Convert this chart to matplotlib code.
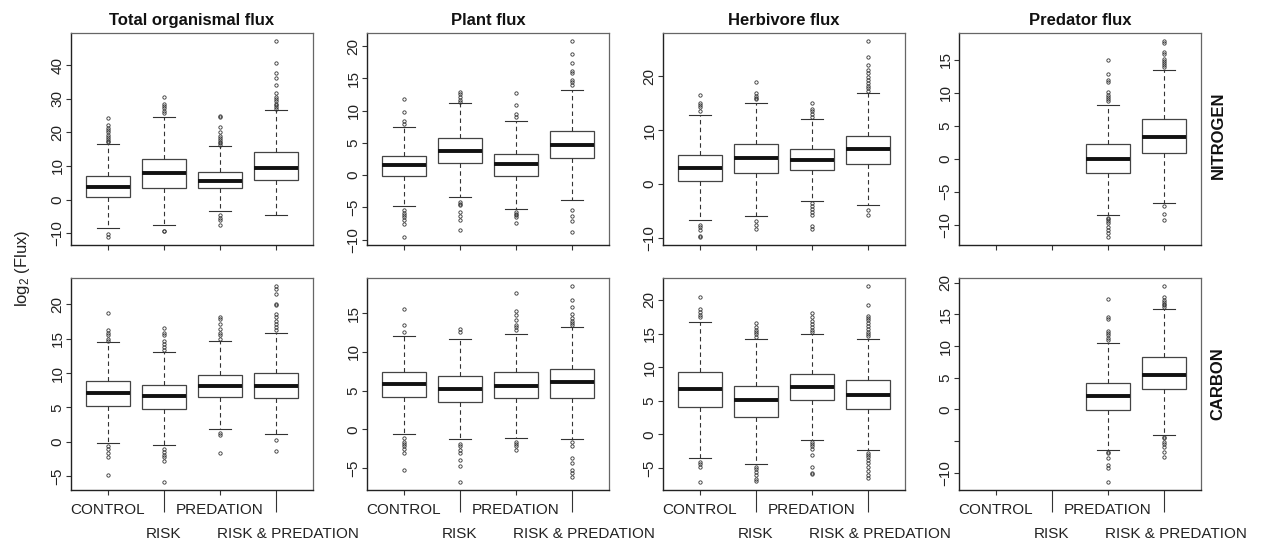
import matplotlib
matplotlib.use("Agg")
import matplotlib.pyplot as plt
import numpy as np

plt.rcParams.update({
    "font.family": "Liberation Sans",
    "mathtext.default": "regular",
    "axes.unicode_minus": True,
})

groups = ["Total organismal flux", "Plant flux", "Herbivore flux", "Predator flux"]
treatments = ["CONTROL", "RISK", "PREDATION", "RISK & PREDATION"]
elements = ["NITROGEN", "CARBON"]

# ---- NITROGEN (rows = flux group, cols = treatment) ----
n_q1 = [[0.8, 3.5, 3.5, 5.9], [-0.1, 1.96, -0.2, 2.6], [0.5, 2.0, 2.5, 3.7], [None, None, -2.2, 0.9]]
n_med = [[3.75, 7.9, 5.4, 9.4], [1.55, 3.8, 1.8, 4.7], [3.0, 4.8, 4.5, 6.5], [None, None, 0.0, 3.35]]
n_q3 = [[7.0, 12.0, 8.1, 14.1], [3.0, 5.8, 3.25, 6.85], [5.4, 7.4, 6.4, 9.0], [None, None, 2.2, 6.1]]
n_wlo = [[-8.4, -7.7, -3.4, -4.5], [-4.7, -3.45, -5.2, -3.9], [-6.8, -6.0, -3.1, -4.0], [None, None, -8.6, -6.7]]
n_whi = [[16.5, 24.5, 15.8, 26.6], [7.4, 11.2, 8.35, 13.2], [12.8, 15.1, 12.1, 16.9], [None, None, 8.2, 13.55]]
n_fliers = [
    [[17.0, 17.5, 18.0, 18.6, 19.3, 20.0, 20.6, 21.2, 22.2, 24.2, -10.2, -11.2],
     [25.6, 26.2, 27.2, 27.9, 28.5, 30.4, -9.4, -9.5],
     [16.2, 16.7, 17.1, 17.6, 18.3, 19.0, 20.0, 21.5, 24.5, 24.9, -4.6, -5.4, -6.1, -7.7],
     [27.0, 27.5, 28.0, 28.5, 29.2, 29.8, 30.6, 31.8, 34.1, 36.1, 37.7, 40.7, 47.2]],
    [[8.0, 8.35, 9.85, 11.75, -5.4, -5.8, -6.2, -6.5, -7.0, -7.6, -9.6],
     [11.4, 11.7, 12.1, 12.5, 12.9, -4.1, -4.4, -4.6, -5.7, -6.3, -7.0, -8.5],
     [9.0, 9.4, 10.9, 12.8, -5.7, -6.0, -6.2, -6.5, -7.4],
     [13.9, 14.4, 14.7, 15.8, 16.1, 17.4, 18.8, 20.8, -5.4, -6.3, -7.1, -8.8]],
    [[13.5, 14.3, 14.7, 15.1, 16.5, -7.7, -8.1, -8.5, -9.6, -9.9],
     [15.7, 16.0, 16.4, 16.9, 18.9, -6.9, -7.7, -8.3],
     [12.5, 13.0, 13.5, 13.9, 15.0, -3.6, -4.1, -4.6, -5.2, -5.8, -7.8, -8.3],
     [17.3, 17.8, 18.2, 18.7, 19.3, 19.9, 20.6, 21.2, 22.1, 23.6, 26.6, -4.8, -5.7]],
    [None, None,
     [8.8, 9.1, 9.4, 9.7, 10.1, 11.6, 11.9, 12.8, 15.0, -9.0, -9.2, -9.5, -9.8, -10.3, -10.8, -11.3, -11.9],
     [14.0, 14.2, 14.5, 14.9, 15.1, 15.9, 16.2, 17.5, 17.9, -7.1, -8.4, -9.3]],
]

# ---- CARBON ----
c_q1 = [[5.2, 4.7, 6.5, 6.3], [4.2, 3.55, 4.0, 4.1], [4.1, 2.6, 5.05, 3.8], [None, None, -0.1, 3.2]]
c_med = [[7.15, 6.6, 8.15, 8.15], [5.9, 5.25, 5.65, 6.15], [6.8, 5.05, 7.1, 5.8], [None, None, 2.1, 5.5]]
c_q3 = [[8.9, 8.2, 9.75, 10.05], [7.45, 6.85, 7.4, 7.75], [9.35, 7.2, 9.05, 8.05], [None, None, 4.2, 8.2]]
c_wlo = [[-0.25, -0.5, 1.8, 1.06], [-0.55, -1.3, -1.1, -1.3], [-3.55, -4.4, -0.85, -2.35], [None, None, -6.4, -4.05]]
c_whi = [[14.5, 13.0, 14.6, 15.8], [12.0, 11.7, 12.3, 13.2], [16.7, 14.2, 14.9, 14.2], [None, None, 10.4, 15.8]]
c_fliers = [
    [[14.7, 15.0, 15.5, 15.9, 16.3, 18.7, -0.7, -1.1, -1.7, -2.3, -4.9],
     [13.4, 13.8, 14.3, 14.7, 15.5, 15.9, 16.5, -1.0, -1.45, -1.9, -2.3, -2.75, -5.9],
     [15.0, 15.5, 15.9, 16.4, 17.1, 17.9, 18.2, 1.3, 0.9, -1.7],
     [16.2, 16.7, 17.1, 17.6, 18.1, 18.6, 19.9, 20.1, 21.5, 22.2, 22.7, 0.2, -1.3]],
    [[12.5, 13.5, 15.5, -1.15, -1.6, -1.9, -2.2, -2.55, -3.1, -5.2],
     [12.5, 13.0, -1.9, -2.2, -2.65, -3.1, -3.9, -4.7, -6.8],
     [12.8, 13.2, 13.5, 14.1, 14.7, 15.3, 17.6, -1.6, -1.9, -2.2, -2.65],
     [13.5, 13.75, 14.0, 14.3, 14.9, 15.8, 16.7, 18.5, -1.65, -2.2, -3.7, -4.35, -5.2, -5.65, -6.2]],
    [[17.5, 17.7, 18.2, 18.7, 20.4, -4.05, -4.4, -4.8, -7.1],
     [14.5, 14.9, 15.2, 15.6, 16.0, 16.5, -4.8, -5.2, -5.6, -6.0, -6.7, -6.9],
     [15.3, 15.6, 16.0, 16.4, 16.9, 17.5, 18.0, -1.2, -1.45, -1.75, -2.2, -3.1, -4.8, -5.8, -5.9],
     [14.65, 14.9, 15.3, 15.7, 16.1, 16.5, 17.0, 17.3, 17.6, 19.3, 22.1,
      -2.7, -3.1, -3.3, -3.8, -4.3, -4.8, -5.4, -6.1, -6.5]],
    [None, None,
     [10.9, 11.2, 11.7, 12.0, 12.3, 14.3, 14.6, 17.5, -6.7, -6.95, -7.7, -8.8, -9.3, -11.5],
     [16.2, 16.5, 16.7, 17.0, 17.3, 17.8, 19.5, -4.3, -4.6, -5.1, -5.5, -5.9, -6.7, -7.6]],
]

n_yticks = [[-10, 0, 10, 20, 30, 40], [-10, -5, 0, 5, 10, 15, 20], [-10, 0, 10, 20], [-10, -5, 0, 5, 10, 15]]
c_yticks = [[-5, 0, 5, 10, 15, 20], [-5, 0, 5, 10, 15], [-5, 0, 5, 10, 15, 20], [-10, -5, 0, 5, 10, 15, 20]]
c_hidden = [[], [], [], [-5]]   # R dropped this label (overlap)

positions = [1, 2, 3, 4]
ink = "#333333"

fig = plt.figure(figsize=(12.68, 5.44), dpi=100)
W, H = 1268.0, 544.0
lefts = [71, 367, 663, 959]
pw = 242
rows = [(33, 245), (278, 490)]


def make_stats(q1, med, q3, wlo, whi, fl):
    stats, pos = [], []
    for i in range(4):
        if med[i] is None:
            continue
        stats.append(dict(q1=q1[i], med=med[i], q3=q3[i], whislo=wlo[i], whishi=whi[i],
                          fliers=np.array(fl[i])))
        pos.append(positions[i])
    return stats, pos


all_data = [(n_q1, n_med, n_q3, n_wlo, n_whi, n_fliers, n_yticks, [[]] * 4),
            (c_q1, c_med, c_q3, c_wlo, c_whi, c_fliers, c_yticks, c_hidden)]

for r, (q1, med, q3, wlo, whi, fl, yt, hid) in enumerate(all_data):
    top, bot = rows[r]
    for g in range(4):
        ax = fig.add_axes([lefts[g] / W, 1 - bot / H, pw / W, (bot - top) / H])
        stats, pos = make_stats(q1[g], med[g], q3[g], wlo[g], whi[g], fl[g])
        ax.bxp(stats, positions=pos, widths=0.8, capwidths=0.4, patch_artist=True,
               manage_ticks=False,
               boxprops=dict(facecolor="white", edgecolor="#444444", linewidth=0.9),
               medianprops=dict(color="#111111", linewidth=2.8, solid_capstyle="butt"),
               whiskerprops=dict(color=ink, linewidth=0.8, linestyle=(0, (4, 3))),
               capprops=dict(color=ink, linewidth=0.8),
               flierprops=dict(marker="o", markersize=2.4, markerfacecolor="none",
                               markeredgecolor=ink, markeredgewidth=0.6, linestyle="none"))

        # R style limits: range of all values + 4%
        vals = []
        for s in stats:
            vals += [s["whislo"], s["whishi"]] + list(s["fliers"])
        lo, hi = min(vals), max(vals)
        pad = 0.04 * (hi - lo)
        ax.set_ylim(lo - pad, hi + pad)
        ax.set_xlim(0.34, 4.66)

        ax.set_yticks(yt[g])
        ax.set_yticklabels(["" if v in hid[g] else f"{v}".replace("-", "\u2212") for v in yt[g]],
                           rotation=90, va="center", fontsize=11, color="#222222")
        ax.set_xticks(positions)
        ax.set_xticklabels([])
        ax.tick_params(axis="both", length=3.6, width=0.8, color=ink, pad=1)

        for side in ["top", "right"]:
            ax.spines[side].set_color("#666666")
            ax.spines[side].set_linewidth(0.9)
        for side in ["left", "bottom"]:
            ax.spines[side].set_color("#222222")
            ax.spines[side].set_linewidth(1.0)

        if r == 0:
            ax.set_title(groups[g], fontsize=12, fontweight="bold", pad=6, color="#111111")
        else:
            ticks = ax.xaxis.get_major_ticks()
            for k in (1, 3):
                ticks[k].tick1line.set_markersize(16)
                ticks[k].tick1line.set_color("#555555")
            tr = ax.get_xaxis_transform()
            for k, lab in enumerate(treatments):
                if k % 2 == 0:
                    dy, dx = -14.4, 0
                else:
                    dy, dx = -31.7, (8.6 if k == 3 else 0)
                ax.annotate(lab, xy=(positions[k], 0), xycoords=tr, xytext=(dx, dy),
                            textcoords="offset points", ha="center", va="center",
                            fontsize=11, color="#222222")

fig.text(1218 / W, 1 - 135 / H, elements[0], rotation=90, ha="center", va="center",
         fontsize=12, fontweight="bold", color="#111111")
fig.text(1218 / W, 1 - 384 / H, elements[1], rotation=90, ha="center", va="center",
         fontsize=12, fontweight="bold", color="#111111")
fig.text(22 / W, 1 - 268 / H, "log$_2$ (Flux)", rotation=90, ha="center", va="center",
         fontsize=12, color="#222222")

fig.savefig("out.png", dpi=100)
